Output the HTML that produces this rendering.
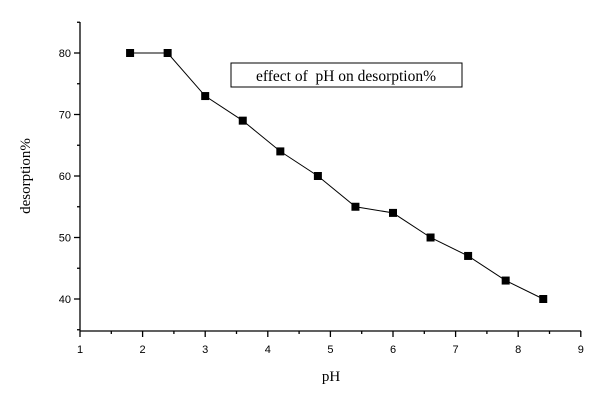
<!DOCTYPE html><html><head><style>body{margin:0;background:#fff}</style></head><body>
<svg width="605" height="402" xmlns="http://www.w3.org/2000/svg" font-family="Liberation Sans, Arial, sans-serif">
<rect width="605" height="402" fill="#fff"/>
<g stroke="#000" stroke-width="1.3" fill="none">
<line x1="80" y1="22" x2="80" y2="331"/>
<line x1="80" y1="331" x2="581" y2="331"/>
</g>
<g stroke="#000" stroke-width="1.3" id="t"></g>
<g font-size="11" fill="#000" id="lb"></g>
<polyline fill="none" stroke="#000" stroke-width="1" id="pl"/>
<g id="mk"></g>
<rect x="231" y="63" width="231" height="24" fill="#fff" stroke="#000" stroke-width="1"/>
<text x="346" y="81" text-anchor="middle" font-family="Liberation Serif, serif" font-size="15.5">effect of&#160; pH on desorption%</text>
<text x="331" y="381" text-anchor="middle" font-family="Liberation Serif, serif" font-size="15">pH</text>
<text transform="translate(30,176) rotate(-90)" text-anchor="middle" font-family="Liberation Serif, serif" font-size="15">desorption%</text>
<script>
var X=v=>80+(v-1)*62.6, Y=v=>53+(80-v)*6.15, t=document.getElementById('t'),lb=document.getElementById('lb'),ns="http://www.w3.org/2000/svg";
function el(p,n,a,tx){var e=document.createElementNS(ns,n);for(var k in a)e.setAttribute(k,a[k]);if(tx)e.textContent=tx;p.appendChild(e);}
for(var i=1;i<=9;i+=0.5){var x=X(i),maj=i%1==0;el(t,'line',{x1:x,y1:331,x2:x,y2:maj?337:334});if(maj)el(lb,'text',{x:x,y:353,'text-anchor':'middle'},i);}
for(var v=35;v<=85;v+=5){var y=Y(v),maj=v%10==0;el(t,'line',{x1:80,y1:y,x2:maj?74:77,y2:y});if(maj&&v>=40&&v<=80)el(lb,'text',{x:71,y:y+4,'text-anchor':'end'},v);}
var d=[[1.8,80],[2.4,80],[3,73],[3.6,69],[4.2,64],[4.8,60],[5.4,55],[6,54],[6.6,50],[7.2,47],[7.8,43],[8.4,40]];
document.getElementById('pl').setAttribute('points',d.map(p=>X(p[0])+','+Y(p[1])).join(' '));
var mk=document.getElementById('mk');d.forEach(p=>el(mk,'rect',{x:X(p[0])-4,y:Y(p[1])-4,width:8,height:8,fill:'#000'}));
</script>
</svg></body></html>
